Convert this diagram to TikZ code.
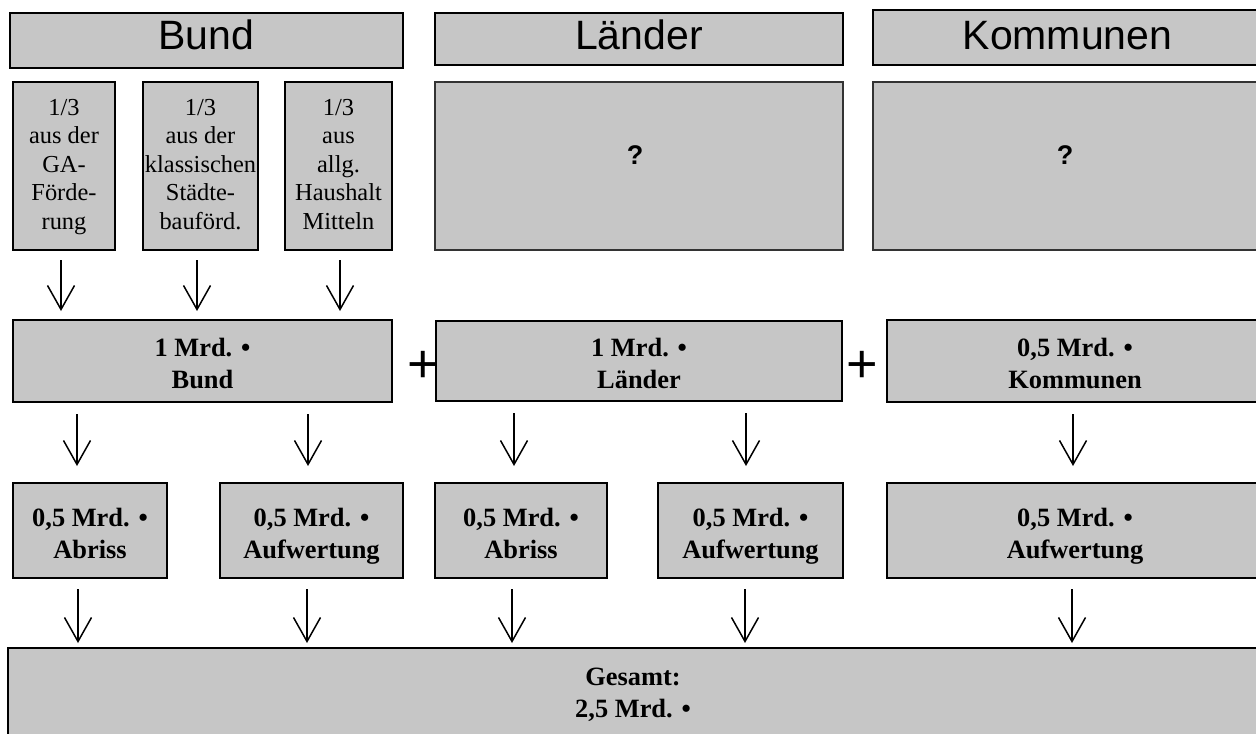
\documentclass[tikz,border=0pt]{standalone}
\usepackage{fontspec}
\setmainfont{Liberation Serif}
\newfontfamily\hsans{Liberation Sans}
\usetikzlibrary{arrows.meta}
\definecolor{boxgray}{RGB}{198,198,198}
\newcommand\mytop[1]{\rule{0pt}{#1}}
\newcommand\mybot[1]{\rule[-#1]{0pt}{#1}}
\begin{document}
\begin{tikzpicture}[x=0.5pt,y=-0.5pt,
 base/.style={draw=black, fill=boxgray, rectangle, inner sep=0pt, outer sep=0pt},
 head/.style={base, line width=1pt, text height=14.7pt, font=\hsans\fontsize{20.5}{24}\selectfont},
 src/.style={base, line width=1.1pt, align=center, font=\fontsize{12.2}{14.25}\selectfont},
 qbox/.style={base, draw=black!80, line width=0.7pt},
 qmark/.style={font=\hsans\bfseries\fontsize{13.5}{16}\selectfont, inner sep=0pt},
 sumbox/.style={base, line width=1.1pt, align=center, font=\bfseries\fontsize{13.2}{16}\selectfont},
 plus/.style={font=\hsans\fontsize{27}{30}\selectfont, inner sep=0pt},
 arr/.style={line width=0.75pt, -{Straight Barb[length=12pt,width=13.5pt]}}
]
\useasboundingbox (0,0) rectangle (1256,733);
\clip (0,0) rectangle (1256,733);

% headers
\node[head, line width=1.3pt, text depth=5.2pt, minimum width=196.5pt, minimum height=27.5pt] (hB) at (206.5,40.5) {Bund};
\node[head, text depth=3.7pt, minimum width=204pt, minimum height=26pt] (hL) at (639,39) {Länder};
\node[head, text depth=2.2pt, minimum width=194.5pt, minimum height=27.5pt] (hK) at (1067.5,37.5) {Kommunen};

% sources of Bund
\node[src, minimum width=51pt, minimum height=84pt] (s1) at (64,166) {\mytop{10pt}1/3\\aus der\\GA-\\Förde-\\rung\mybot{4pt}};
\node[src, minimum width=57.5pt, minimum height=84pt] (s2) at (200.5,166) {\mytop{10pt}1/3\\aus der\\klassischen\\Städte-\\bauförd.\mybot{4pt}};
\node[src, minimum width=53.5pt, minimum height=84pt] (s3) at (338.5,166) {\mytop{10pt}1/3\\aus\\allg.\\Haushalt\\Mitteln\mybot{4pt}};

% question boxes
\node[qbox, minimum width=204pt, minimum height=84pt] (qL) at (639,166) {};
\node[qmark] (qLt) at (635,155) {?};
\node[qbox, minimum width=194.5pt, minimum height=84pt] (qK) at (1067.5,166) {};
\node[qmark] (qKt) at (1065,155) {?};

% middle row
\node[sumbox, minimum width=189.5pt, minimum height=41pt] (mB) at (202.5,361) {\mytop{15pt}1 Mrd. •\\Bund\mybot{4pt}};
\node[sumbox, minimum width=203pt, minimum height=40pt] (mL) at (639,361) {\mytop{15pt}1 Mrd. •\\Länder\mybot{4pt}};
\node[sumbox, minimum width=188pt, minimum height=41pt] (mK) at (1075,361) {\mytop{15pt}0,5 Mrd. •\\Kommunen\mybot{4pt}};
\node[plus] (p1) at (423,367) {+};
\node[plus] (p2) at (862,367) {+};

% third row
\node[sumbox, minimum width=77pt, minimum height=47.5pt] (r1) at (90,530.5) {\mytop{16pt}0,5 Mrd. •\\Abriss\mybot{4pt}};
\node[sumbox, minimum width=91.5pt, minimum height=47.5pt] (r2) at (311.5,530.5) {\mytop{16pt}0,5 Mrd. •\\Aufwertung\mybot{4pt}};
\node[sumbox, minimum width=86pt, minimum height=47.5pt] (r3) at (521,530.5) {\mytop{16pt}0,5 Mrd. •\\Abriss\mybot{4pt}};
\node[sumbox, minimum width=92.5pt, minimum height=47.5pt] (r4) at (750.5,530.5) {\mytop{16pt}0,5 Mrd. •\\Aufwertung\mybot{4pt}};
\node[sumbox, minimum width=188pt, minimum height=47.5pt] (r5) at (1075,530.5) {\mytop{16pt}0,5 Mrd. •\\Aufwertung\mybot{4pt}};

% total
\node[sumbox, minimum width=625pt, minimum height=46pt] (tot) at (633,694) {\mytop{11pt}Gesamt:\\2,5 Mrd. •\mybot{4pt}};

% arrow columns
\coordinate (c1) at (61,0);
\coordinate (c2) at (197,0);
\coordinate (c3) at (340,0);
\coordinate (d1) at (77,0);
\coordinate (d2) at (308,0);
\coordinate (d3) at (514,0);
\coordinate (d4) at (746,0);
\coordinate (d5) at (1073,0);
\coordinate (e1) at (78,0);
\coordinate (e2) at (307,0);
\coordinate (e3) at (512,0);
\coordinate (e4) at (745,0);
\coordinate (e5) at (1072,0);

\draw[arr, shorten <=5pt, shorten >=4.5pt] (c1 |- s1.south) -- (c1 |- mB.north);
\draw[arr, shorten <=5pt, shorten >=4.5pt] (c2 |- s2.south) -- (c2 |- mB.north);
\draw[arr, shorten <=5pt, shorten >=4.5pt] (c3 |- s3.south) -- (c3 |- mB.north);

\draw[arr, shorten <=6pt, shorten >=8.5pt] (d1 |- mB.south) -- (d1 |- r1.north);
\draw[arr, shorten <=6pt, shorten >=8.5pt] (d2 |- mB.south) -- (d2 |- r2.north);
\draw[arr, shorten <=6pt, shorten >=8.5pt] (d3 |- mL.south) -- (d3 |- r3.north);
\draw[arr, shorten <=6pt, shorten >=8.5pt] (d4 |- mL.south) -- (d4 |- r4.north);
\draw[arr, shorten <=6pt, shorten >=8.5pt] (d5 |- mK.south) -- (d5 |- r5.north);

\draw[arr, shorten <=5.5pt, shorten >=2.5pt] (e1 |- r1.south) -- (e1 |- tot.north);
\draw[arr, shorten <=5.5pt, shorten >=2.5pt] (e2 |- r2.south) -- (e2 |- tot.north);
\draw[arr, shorten <=5.5pt, shorten >=2.5pt] (e3 |- r3.south) -- (e3 |- tot.north);
\draw[arr, shorten <=5.5pt, shorten >=2.5pt] (e4 |- r4.south) -- (e4 |- tot.north);
\draw[arr, shorten <=5.5pt, shorten >=2.5pt] (e5 |- r5.south) -- (e5 |- tot.north);
\end{tikzpicture}
\end{document}
